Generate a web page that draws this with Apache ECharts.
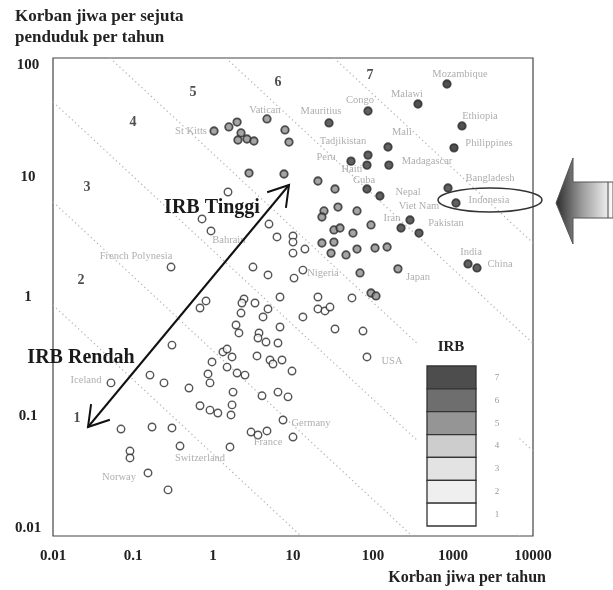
<!DOCTYPE html>
<html><head><meta charset="utf-8">
<script src="https://cdn.jsdelivr.net/npm/echarts@6/dist/echarts.min.js"></script>
<style>html,body{margin:0;padding:0;background:#fff}#c{width:613px;height:590px}</style>
</head><body><div id="c"></div>
<script>
const xTickLabels = ['0.01','0.1','1','10','100','1000','10000'];
const yTickLabels = ['0.01','0.1','1','10','100'];
// [korban jiwa per tahun, korban jiwa per sejuta penduduk per tahun, kelas IRB]
const countries = [
 [1.03,24.5,5],[1.58,26.5,5],[2.0,29.1,5],[2.24,23.6,5],[2.05,20.6,5],[2.66,21.0,5],[3.25,20.2,5],
 [4.73,30.9,5],[7.94,25.0,5],[8.91,19.8,5],[28.2,28.6,6],[86.6,36.0,6],[365,41.2,7],[841,60.6,7],
 [1296,27.0,7],[1029,17.7,7],[154,18.0,6],[158,12.7,6],[53.1,13.7,6],[86.6,15.4,6],[84.1,12.7,6],
 [2.82,10.9,5],[7.72,10.7,5],[1.54,7.56,4],[20.5,9.35,5],[33.5,8.01,5],[84.1,8.01,6],[122,7.00,6],
 [866,8.17,6],[1090,6.12,6],[36.5,5.66,5],[63.1,5.25,5],[24.4,5.25,5],[23.0,4.67,5],[290,4.41,6],
 [224,3.78,6],[376,3.43,6],[0.729,4.50,4],[0.944,3.57,4],[5.01,4.08,4],[6.31,3.18,4],[10.0,3.24,4],
 [10.0,2.88,4],[10.0,2.33,4],[14.1,2.52,4],[32.5,3.64,5],[38.7,3.78,5],[56.2,3.43,5],[94.4,4.01,5],
 [23.0,2.83,5],[32.5,2.88,5],[29.9,2.33,5],[46.0,2.25,5],[63.1,2.52,5],[106,2.57,5],[150,2.62,5],
 [205,1.72,5],[1540,1.89,6],[1995,1.75,6],[68.8,1.59,5],[13.3,1.68,4],[0.299,1.78,3],[3.16,1.78,4],
 [4.87,1.53,4],[10.3,1.44,4],[6.88,1.00,4],[20.5,1.00,4],[54.6,0.982,4],[94.4,1.08,5],[109,1.02,5],
 [2.44,0.962,3],[2.30,0.891,3],[3.35,0.891,3],[0.818,0.927,3],[0.688,0.809,3],[2.24,0.734,3],
 [4.87,0.794,3],[4.22,0.681,3],[13.3,0.681,4],[20.5,0.794,4],[25.1,0.764,4],[29.0,0.824,4],
 [33.5,0.540,4],[75.0,0.519,4],[1.94,0.583,3],[2.11,0.500,3],[6.88,0.561,3],[3.76,0.500,3],
 [3.65,0.454,3],[4.60,0.420,3],[6.49,0.412,3],[0.307,0.396,2],[1.33,0.347,3],[1.50,0.367,3],
 [1.73,0.315,3],[3.55,0.321,3],[5.16,0.297,3],[5.62,0.275,3],[7.29,0.297,3],[84.1,0.315,4],
 [0.972,0.286,2],[1.50,0.259,2],[9.72,0.240,3],[0.866,0.227,2],[0.917,0.191,2],[2.0,0.231,2],
 [2.51,0.222,3],[1.78,0.160,2],[4.10,0.149,2],[6.49,0.160,3],[8.66,0.146,3],[0.163,0.222,2],
 [0.244,0.191,2],[0.0531,0.191,1],[0.501,0.173,2],[0.688,0.123,2],[0.917,0.113,2],[1.15,0.107,2],
 [1.73,0.125,2],[1.68,0.103,2],[7.50,0.0935,2],[10.0,0.0673,2],[2.99,0.0741,2],[3.65,0.0700,2],
 [4.73,0.0757,2],[1.63,0.0556,2],[0.0708,0.0785,1],[0.173,0.0817,1],[0.307,0.0802,1],
 [0.387,0.0566,1],[0.0917,0.0514,1],[0.0917,0.0450,1],[0.154,0.0337,1],[0.274,0.0243,1]
];
const countryLabels = [
 ['Mozambique',1223,73.4],['Malawi',266,50.0],['Congo',68.8,44.6],['Mauritius',22.4,36.0],
 ['Vatican',4.47,36.7],['St Kitts',0.531,24.5],['Ethiopia',2175,32.7],['Mali',230,24.0],
 ['Tadjikistan',42.2,20.2],['Philippines',2818,19.5],['Peru',25.9,14.9],['Madagascar',473,13.7],
 ['Haiti',54.6,11.8],['Cuba',77.2,9.53],['Nepal',274,7.56],['Bangladesh',2900,9.91],
 ['Indonesia',2818,6.49],['Viet Nam',376,5.78],['Iran',173,4.58],['Pakistan',817,4.16],
 ['India',1679,2.38],['China',3868,1.89],['Japan',365,1.47],['Nigeria',23.7,1.59],
 ['USA',173,0.291],['Germany',16.8,0.0883],['France',4.87,0.0612],['Switzerland',0.688,0.0450],
 ['Norway',0.0668,0.0312],['Iceland',0.0259,0.202],['French Polynesia',0.109,2.20],['Bahrain',1.58,3.00]
];
const zoneLabels = [
 ['1',0.02,0.0971],['2',0.0224,1.39],['3',0.0266,8.34],['4',0.1,29.1],
 ['5',0.562,51.9],['6',6.49,63.0],['7',91.7,72.1]
];
// garis batas kelas IRB: [x1, y1, x2, y2]
const irbLines = [
 [0.01,0.857,12.6,0.01],[0.01,6.24,309,0.01],[0.01,42.9,6900,0.01],
 [0.0516,100,10000,0.0514],[1.45,100,10000,0.41],[32.5,100,10000,2.83]
];
const irbClasses = [7,6,5,4,3,2,1];
const legendColors = {7:'#4d4d4d',6:'#6e6e6e',5:'#959595',4:'#cdcdcd',3:'#e3e3e3',2:'#efefef',1:'#ffffff'};
const pointColors = {7:'#262626',6:'#3a3a3a',5:'#8e8e8e',4:'#ffffff',3:'#ffffff',2:'#ffffff',1:'#ffffff'};

const serif = '"Liberation Serif","Times New Roman",serif';
function tickFmt(labels){
  return function(v){
    const hit = labels.find(s => Math.abs(Math.log10(parseFloat(s)) - Math.log10(v)) < 1e-6);
    return hit || '';
  };
}
function headPts(tx,ty,fx,fy){
  const a = Math.atan2(fy-ty, fx-tx), L = 23, s = 32*Math.PI/180;
  return [[tx+L*Math.cos(a+s), ty+L*Math.sin(a+s)],[tx,ty],[tx+L*Math.cos(a-s), ty+L*Math.sin(a-s)]];
}

const chart = echarts.init(document.getElementById('c'), null, {renderer:'canvas'});

const lineSeries = irbLines.map(l => ({
  type:'line', data:[[l[0],l[1]],[l[2],l[3]]], symbol:'none', silent:true, z:1,
  lineStyle:{color:'#b4b4b4', width:1.2, type:[1.3,3]}, animation:false
}));

const graphics = [];
graphics.push({type:'text', z:100, style:{text:'Korban jiwa per sejuta', x:15, y:17, font:'bold 17px '+serif, fill:'#222', align:'left', verticalAlign:'middle'}});
graphics.push({type:'text', z:100, style:{text:'penduduk per tahun', x:15, y:38, font:'bold 17px '+serif, fill:'#222', align:'left', verticalAlign:'middle'}});
graphics.push({type:'text', z:100, style:{text:'Korban jiwa per tahun', x:546, y:578, font:'bold 16px '+serif, fill:'#222', align:'right', verticalAlign:'middle'}});
graphics.push({type:'line', z:100, shape:{x1:88,y1:427,x2:289,y2:185}, style:{stroke:'#111', lineWidth:2}});
graphics.push({type:'polyline', z:100, shape:{points:headPts(289,185,88,427)}, style:{stroke:'#111', lineWidth:2, fill:null}});
graphics.push({type:'polyline', z:100, shape:{points:headPts(88,427,289,185)}, style:{stroke:'#111', lineWidth:2, fill:null}});
graphics.push({type:'text', z:100, style:{text:'IRB Tinggi', x:212, y:208, font:'bold 20px '+serif, fill:'#1a1a1a', align:'center', verticalAlign:'middle'}});
graphics.push({type:'text', z:100, style:{text:'IRB Rendah', x:81, y:358, font:'bold 20px '+serif, fill:'#1a1a1a', align:'center', verticalAlign:'middle'}});
graphics.push({type:'ellipse', z:100, shape:{cx:490, cy:200, rx:52, ry:12}, style:{stroke:'#333', lineWidth:1.4, fill:null}});
graphics.push({type:'polygon', z:100, shape:{points:[[556,203],[573,158],[573,182],[613,182],[613,218],[573,218],[573,244]]},
  style:{stroke:'#555', lineWidth:1, fill:new echarts.graphic.LinearGradient(0,0,1,0,[{offset:0,color:'#2a2a2a'},{offset:0.45,color:'#9a9a9a'},{offset:1,color:'#ffffff'}])}});
graphics.push({type:'line', z:100, shape:{x1:608,y1:182,x2:608,y2:218}, style:{stroke:'#444', lineWidth:1}});
graphics.push({type:'rect', z:99, shape:{x:418,y:332,width:100,height:201}, style:{fill:'#fff'}});
graphics.push({type:'text', z:100, style:{text:'IRB', x:451, y:347, font:'bold 15px '+serif, fill:'#222', align:'center', verticalAlign:'middle'}});
const cellH = 160/7;
irbClasses.forEach((c,i) => {
  graphics.push({type:'rect', z:100, shape:{x:427, y:366+i*cellH, width:49, height:cellH}, style:{fill:legendColors[c], stroke:'#333', lineWidth:1.3}});
  graphics.push({type:'text', z:100, style:{text:String(c), x:497, y:366+i*cellH+cellH/2, font:'9px '+serif, fill:'#999', align:'center', verticalAlign:'middle'}});
});

const option = {
  animation:false,
  backgroundColor:'#fff',
  grid:{left:53, right:80, top:58, bottom:54, show:true, borderColor:'#444', borderWidth:1.2, backgroundColor:'transparent', outerBoundsMode:'none', containLabel:false},
  xAxis:{type:'log', logBase:10, min:0.01, max:10000, splitNumber:6,
    axisLine:{show:false}, axisTick:{show:false}, splitLine:{show:false}, minorTick:{show:false},
    axisLabel:{fontFamily:serif, fontWeight:'bold', fontSize:15, color:'#222', margin:13, formatter:tickFmt(xTickLabels), showMinLabel:true, showMaxLabel:true, hideOverlap:false}},
  yAxis:{type:'log', logBase:10, min:0.01, max:100, splitNumber:4,
    axisLine:{show:false}, axisTick:{show:false}, splitLine:{show:false},
    axisLabel:{fontFamily:serif, fontWeight:'bold', fontSize:15, color:'#222', margin:25, align:'center', formatter:tickFmt(yTickLabels), showMinLabel:true, showMaxLabel:true, verticalAlignMinLabel:'bottom', verticalAlignMaxLabel:'top'}},
  series:[
    ...lineSeries,
    {type:'scatter', z:3, silent:true, symbol:'circle', symbolSize:7.5,
      data:countries.map(d => ({value:[d[0],d[1]], itemStyle:{color:pointColors[d[2]], borderColor:'#2a2a2a', borderWidth:d[2]>=5?1.8:1.4}}))},
    {type:'scatter', z:4, silent:true, symbolSize:0,
      data:countryLabels.map(l => ({name:l[0], value:[l[1],l[2]]})),
      label:{show:true, position:'inside', formatter:'{b}', fontFamily:serif, fontSize:10.5, color:'#9a9a9a'}},
    {type:'scatter', z:4, silent:true, symbolSize:0,
      data:zoneLabels.map(l => ({name:l[0], value:[l[1],l[2]]})),
      label:{show:true, position:'inside', formatter:'{b}', fontFamily:serif, fontSize:14, fontWeight:'bold', color:'#222'}}
  ],
  graphic:{elements:graphics}
};
chart.setOption(option);
</script>
</body></html>
